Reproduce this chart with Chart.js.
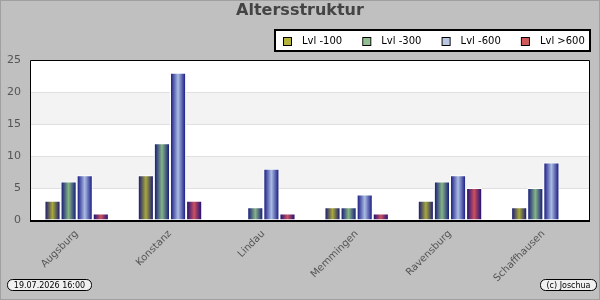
<!DOCTYPE html>
<html>
<head>
<meta charset="utf-8">
<script src="https://cdn.jsdelivr.net/npm/chart.js@4/dist/chart.umd.min.js"></script>
<style>
  html, body { margin:0; padding:0; background:#c0c0c0; }
  #wrap { width:600px; height:300px; }
</style>
</head>
<body>
<div id="wrap"><canvas id="chart" width="600" height="300"></canvas></div>
<script>
// data
const cities = ['Augsburg','Konstanz','Lindau','Memmingen','Ravensburg','Schaffhausen'];
const lvl100 = [3, 7, 0, 2, 3, 2];
const lvl300 = [6, 12, 2, 2, 6, 5];
const lvl600 = [7, 23, 8, 4, 7, 9];
const lvlOver = [1, 3, 1, 1, 5, 0];
const seriesNames = ['Lvl -100','Lvl -300','Lvl -600','Lvl >600'];
const seriesColors = ['#a8a83c','#86b486','#aabce4','#cc5060'];
const legendColors = ['#b4b43c','#90c090','#b8c8e4','#d05858'];
const yTicks = [0, 5, 10, 15, 20, 25];

const chartTitle = 'Altersstruktur';
const footLeft = '19.07.2026 16:00';
const footRight = '(c) Joschua';

const NAVY = '#0a0a78';

function roundBox(ctx, x, y, w, h, r) {
  ctx.beginPath();
  ctx.moveTo(x + r, y);
  ctx.lineTo(x + w - r, y);
  ctx.arcTo(x + w, y, x + w, y + r, r);
  ctx.lineTo(x + w, y + h - r);
  ctx.arcTo(x + w, y + h, x + w - r, y + h, r);
  ctx.lineTo(x + r, y + h);
  ctx.arcTo(x, y + h, x, y + h - r, r);
  ctx.lineTo(x, y + r);
  ctx.arcTo(x, y, x + r, y, r);
  ctx.closePath();
}

// background, bands, gradients, frame, title, legend, footer
const decor = {
  id: 'decor',
  beforeDraw(chart) {
    const ctx = chart.ctx;
    const a = chart.chartArea;
    const y = chart.scales.y;
    ctx.save();
    ctx.fillStyle = '#c0c0c0';
    ctx.fillRect(0, 0, chart.width, chart.height);
    ctx.fillStyle = '#ffffff';
    ctx.fillRect(a.left, a.top, a.right - a.left, a.bottom - a.top);
    ctx.fillStyle = '#f3f3f3';
    for (let i = 0; i < yTicks.length - 1; i++) {
      if (i % 2 === 1) {
        const top = y.getPixelForValue(yTicks[i + 1]);
        const bot = y.getPixelForValue(yTicks[i]);
        ctx.fillRect(a.left, top, a.right - a.left, bot - top);
      }
    }
    ctx.restore();
  },
  beforeDatasetsDraw(chart) {
    const ctx = chart.ctx;
    chart.data.datasets.forEach((ds, di) => {
      const meta = chart.getDatasetMeta(di);
      meta.data.forEach(el => {
        const l = el.x - el.width / 2, r = el.x + el.width / 2;
        const g = ctx.createLinearGradient(l, 0, r, 0);
        g.addColorStop(0, NAVY);
        g.addColorStop(0.5, seriesColors[di]);
        g.addColorStop(1, NAVY);
        el.options.backgroundColor = g;
      });
    });
  },
  afterDraw(chart) {
    const ctx = chart.ctx;
    const a = chart.chartArea;
    ctx.save();
    // frame
    ctx.strokeStyle = '#000';
    ctx.lineWidth = 1;
    ctx.beginPath();
    ctx.moveTo(a.left + 0.5, a.bottom);
    ctx.lineTo(a.left + 0.5, a.top + 0.5);
    ctx.lineTo(a.right - 0.5, a.top + 0.5);
    ctx.lineTo(a.right - 0.5, a.bottom);
    ctx.stroke();
    ctx.lineWidth = 2;
    ctx.beginPath();
    ctx.moveTo(a.left, a.bottom + 1);
    ctx.lineTo(a.right, a.bottom + 1);
    ctx.stroke();

    // title
    ctx.fillStyle = '#444';
    ctx.font = 'bold 16px "DejaVu Sans"';
    ctx.textAlign = 'center';
    ctx.textBaseline = 'middle';
    ctx.fillText(chartTitle, 300, 11);

    // legend
    const lx = 275, ly = 30, lw = 315, lh = 21;
    ctx.fillStyle = '#fff';
    ctx.fillRect(lx, ly, lw, lh);
    ctx.strokeStyle = '#000';
    ctx.lineWidth = 2;
    ctx.strokeRect(lx, ly, lw, lh);
    ctx.font = '10px "DejaVu Sans"';
    ctx.textAlign = 'left';
    seriesNames.forEach((name, i) => {
      const sx = 284 + i * 79.3;
      ctx.fillStyle = legendColors[i];
      ctx.fillRect(sx, 38, 7, 7);
      ctx.lineWidth = 1;
      ctx.strokeStyle = '#000';
      ctx.strokeRect(sx - 0.5, 37.5, 8, 8);
      ctx.fillStyle = '#000';
      ctx.fillText(name, sx + 18, 41.5);
    });

    // footer boxes
    ctx.font = '8px "DejaVu Sans"';
    ctx.lineWidth = 1;
    [[footLeft, 7.5, 84], [footRight, 540.5, 56]].forEach(([t, x, w]) => {
      roundBox(ctx, x, 279.5, w, 11, 5);
      ctx.fillStyle = '#f0f0f0';
      ctx.fill();
      ctx.strokeStyle = '#000';
      ctx.stroke();
      ctx.fillStyle = '#000';
      ctx.textAlign = 'center';
      ctx.fillText(t, x + w / 2, 285.5);
    });

    // outer border
    ctx.strokeStyle = '#a0a0a0';
    ctx.strokeRect(0.5, 0.5, chart.width - 1, chart.height - 1);
    ctx.restore();
  }
};

function makeSet(label, data, i) {
  return {
    label,
    data,
    backgroundColor: () => seriesColors[i],
    borderColor: '#ffffff',
    borderWidth: { top: 1, left: 1, right: 1, bottom: 0 },
    borderSkipped: 'bottom',
    barPercentage: 1.0,
    categoryPercentage: 0.69
  };
}

new Chart(document.getElementById('chart'), {
  type: 'bar',
  data: {
    labels: cities,
    datasets: [
      makeSet(seriesNames[0], lvl100, 0),
      makeSet(seriesNames[1], lvl300, 1),
      makeSet(seriesNames[2], lvl600, 2),
      makeSet(seriesNames[3], lvlOver, 3)
    ]
  },
  options: {
    responsive: false,
    animation: false,
    layout: { padding: { top: 60, right: 10, left: 0, bottom: 0 } },
    plugins: {
      legend: { display: false },
      title: { display: false },
      tooltip: { enabled: false }
    },
    scales: {
      x: {
        grid: { display: false, drawTicks: false },
        border: { display: false },
        ticks: {
          color: '#555',
          font: { family: 'DejaVu Sans', size: 10 },
          minRotation: 45,
          maxRotation: 45,
          padding: 8
        },
        afterFit(s) { s.height = 80; }
      },
      y: {
        min: 0,
        max: 25,
        grid: { color: '#e0e0e0', drawTicks: false },
        border: { display: false },
        ticks: {
          stepSize: 5,
          color: '#555',
          font: { family: 'DejaVu Sans', size: 11 },
          padding: 9
        },
        afterFit(s) { s.width = 30; }
      }
    }
  },
  plugins: [decor]
});
</script>
</body>
</html>
